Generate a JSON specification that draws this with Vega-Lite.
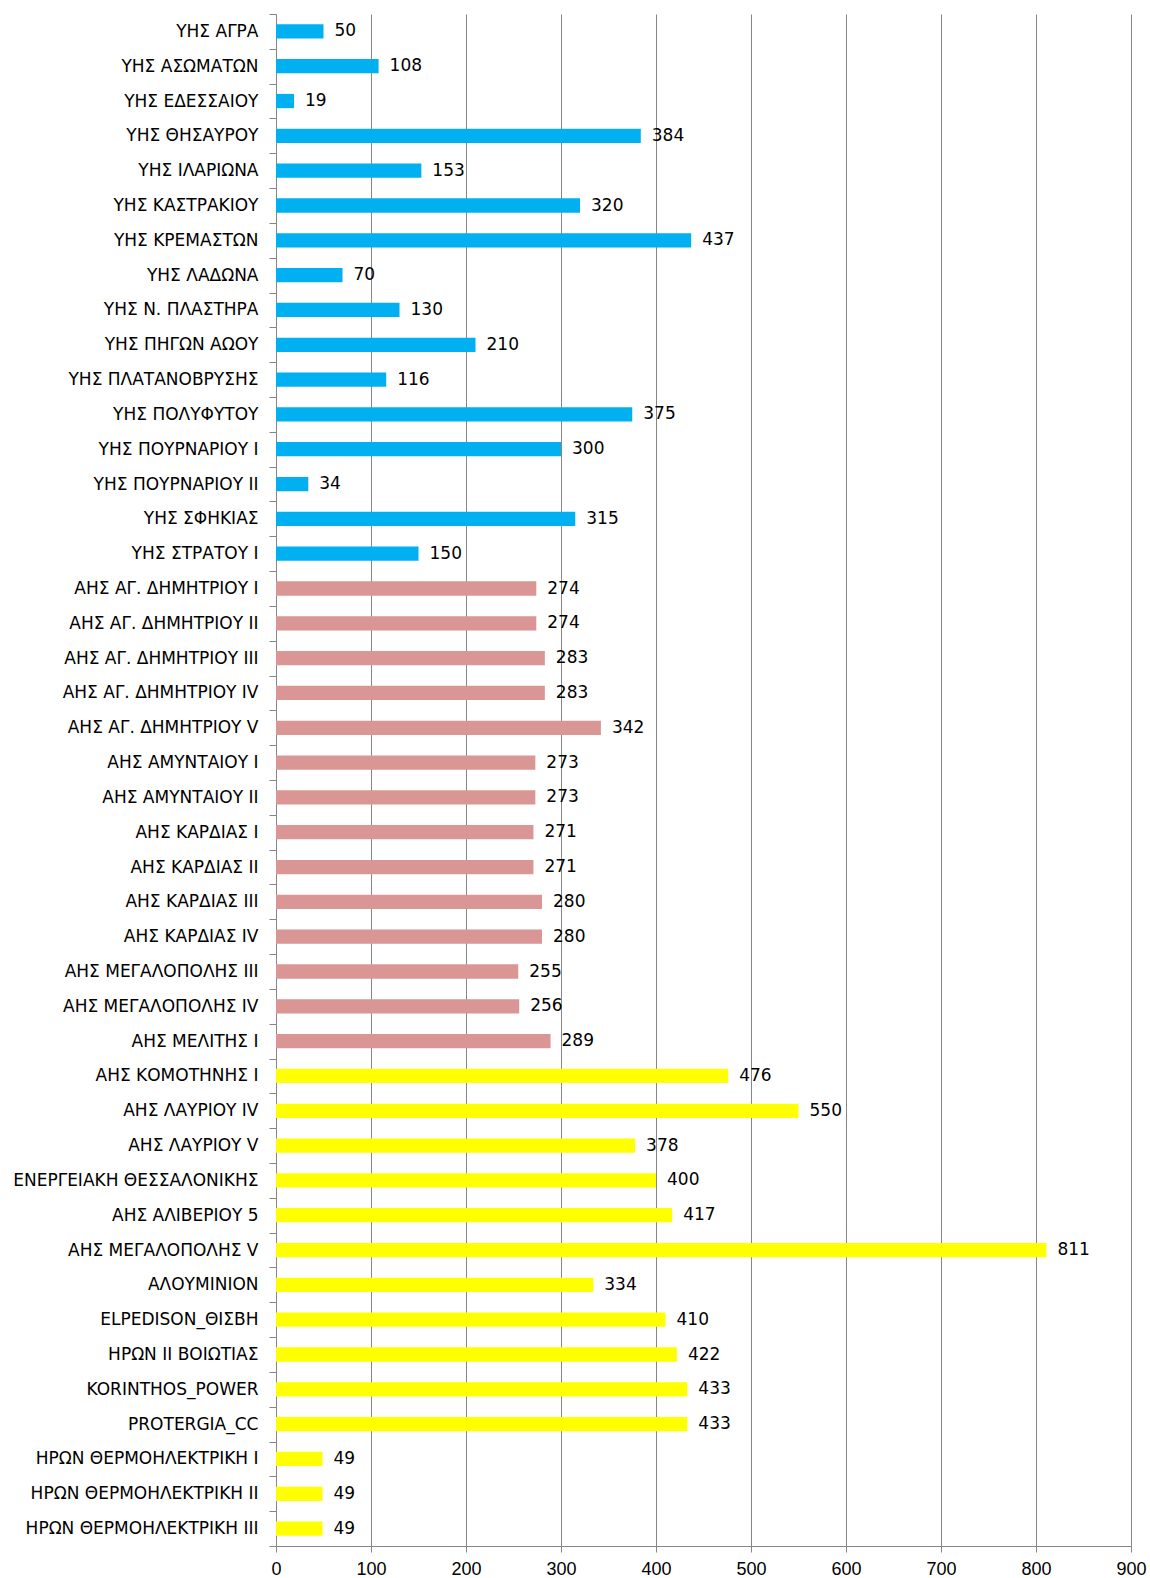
{
  "$schema": "https://vega.github.io/schema/vega-lite/v6.json",
  "width": 855,
  "height": 1532,
  "autosize": {"type": "none"},
  "padding": {"left": 276, "top": 14, "right": 19, "bottom": 32},
  "background": "white",
  "config": {
    "view": {"stroke": null},
    "text": {"font": "DejaVu Sans"}
  },
  "data": {
    "values": [
      {"name": "ΥΗΣ ΑΓΡΑ", "value": 50, "type": "hydro"},
      {"name": "ΥΗΣ ΑΣΩΜΑΤΩΝ", "value": 108, "type": "hydro"},
      {"name": "ΥΗΣ ΕΔΕΣΣΑΙΟΥ", "value": 19, "type": "hydro"},
      {"name": "ΥΗΣ ΘΗΣΑΥΡΟΥ", "value": 384, "type": "hydro"},
      {"name": "ΥΗΣ ΙΛΑΡΙΩΝΑ", "value": 153, "type": "hydro"},
      {"name": "ΥΗΣ ΚΑΣΤΡΑΚΙΟΥ", "value": 320, "type": "hydro"},
      {"name": "ΥΗΣ ΚΡΕΜΑΣΤΩΝ", "value": 437, "type": "hydro"},
      {"name": "ΥΗΣ ΛΑΔΩΝΑ", "value": 70, "type": "hydro"},
      {"name": "ΥΗΣ Ν. ΠΛΑΣΤΗΡΑ", "value": 130, "type": "hydro"},
      {"name": "ΥΗΣ ΠΗΓΩΝ ΑΩΟΥ", "value": 210, "type": "hydro"},
      {"name": "ΥΗΣ ΠΛΑΤΑΝΟΒΡΥΣΗΣ", "value": 116, "type": "hydro"},
      {"name": "ΥΗΣ ΠΟΛΥΦΥΤΟΥ", "value": 375, "type": "hydro"},
      {"name": "ΥΗΣ ΠΟΥΡΝΑΡΙΟΥ I", "value": 300, "type": "hydro"},
      {"name": "ΥΗΣ ΠΟΥΡΝΑΡΙΟΥ II", "value": 34, "type": "hydro"},
      {"name": "ΥΗΣ ΣΦΗΚΙΑΣ", "value": 315, "type": "hydro"},
      {"name": "ΥΗΣ ΣΤΡΑΤΟΥ I", "value": 150, "type": "hydro"},
      {"name": "ΑΗΣ ΑΓ. ΔΗΜΗΤΡΙΟΥ I", "value": 274, "type": "lignite"},
      {"name": "ΑΗΣ ΑΓ. ΔΗΜΗΤΡΙΟΥ II", "value": 274, "type": "lignite"},
      {"name": "ΑΗΣ ΑΓ. ΔΗΜΗΤΡΙΟΥ III", "value": 283, "type": "lignite"},
      {"name": "ΑΗΣ ΑΓ. ΔΗΜΗΤΡΙΟΥ IV", "value": 283, "type": "lignite"},
      {"name": "ΑΗΣ ΑΓ. ΔΗΜΗΤΡΙΟΥ V", "value": 342, "type": "lignite"},
      {"name": "ΑΗΣ ΑΜΥΝΤΑΙΟΥ I", "value": 273, "type": "lignite"},
      {"name": "ΑΗΣ ΑΜΥΝΤΑΙΟΥ II", "value": 273, "type": "lignite"},
      {"name": "ΑΗΣ ΚΑΡΔΙΑΣ I", "value": 271, "type": "lignite"},
      {"name": "ΑΗΣ ΚΑΡΔΙΑΣ II", "value": 271, "type": "lignite"},
      {"name": "ΑΗΣ ΚΑΡΔΙΑΣ III", "value": 280, "type": "lignite"},
      {"name": "ΑΗΣ ΚΑΡΔΙΑΣ IV", "value": 280, "type": "lignite"},
      {"name": "ΑΗΣ ΜΕΓΑΛΟΠΟΛΗΣ III", "value": 255, "type": "lignite"},
      {"name": "ΑΗΣ ΜΕΓΑΛΟΠΟΛΗΣ IV", "value": 256, "type": "lignite"},
      {"name": "ΑΗΣ ΜΕΛΙΤΗΣ I", "value": 289, "type": "lignite"},
      {"name": "ΑΗΣ ΚΟΜΟΤΗΝΗΣ I", "value": 476, "type": "gas"},
      {"name": "ΑΗΣ ΛΑΥΡΙΟΥ IV", "value": 550, "type": "gas"},
      {"name": "ΑΗΣ ΛΑΥΡΙΟΥ V", "value": 378, "type": "gas"},
      {"name": "ΕΝΕΡΓΕΙΑΚΗ ΘΕΣΣΑΛΟΝΙΚΗΣ", "value": 400, "type": "gas"},
      {"name": "ΑΗΣ ΑΛΙΒΕΡΙΟΥ 5", "value": 417, "type": "gas"},
      {"name": "ΑΗΣ ΜΕΓΑΛΟΠΟΛΗΣ V", "value": 811, "type": "gas"},
      {"name": "ΑΛΟΥΜΙΝΙΟΝ", "value": 334, "type": "gas"},
      {"name": "ELPEDISON_ΘΙΣΒΗ", "value": 410, "type": "gas"},
      {"name": "ΗΡΩΝ ΙΙ ΒΟΙΩΤΙΑΣ", "value": 422, "type": "gas"},
      {"name": "KORINTHOS_POWER", "value": 433, "type": "gas"},
      {"name": "PROTERGIA_CC", "value": 433, "type": "gas"},
      {"name": "ΗΡΩΝ ΘΕΡΜΟΗΛΕΚΤΡΙΚΗ I", "value": 49, "type": "gas"},
      {"name": "ΗΡΩΝ ΘΕΡΜΟΗΛΕΚΤΡΙΚΗ II", "value": 49, "type": "gas"},
      {"name": "ΗΡΩΝ ΘΕΡΜΟΗΛΕΚΤΡΙΚΗ III", "value": 49, "type": "gas"}
    ]
  },
  "encoding": {
    "y": {
      "field": "name",
      "type": "nominal",
      "sort": null,
      "scale": {"paddingInner": 0, "paddingOuter": 0},
      "axis": {
        "title": null,
        "tickBand": "extent",
        "domain": true,
        "domainColor": "#868686",
        "tickColor": "#868686",
        "tickSize": 7,
        "labelPadding": 11,
        "labelFont": "DejaVu Sans",
        "labelFontSize": 17,
        "labelColor": "#000000",
        "labelLimit": 300,
        "grid": false
      }
    },
    "x": {
      "field": "value",
      "type": "quantitative",
      "scale": {"domain": [0, 900], "nice": false},
      "axis": {
        "title": null,
        "values": [0, 100, 200, 300, 400, 500, 600, 700, 800, 900],
        "grid": true,
        "gridColor": "#868686",
        "gridWidth": 1,
        "domainColor": "#868686",
        "tickColor": "#868686",
        "tickSize": 6,
        "labelPadding": 8,
        "labelFont": "Liberation Sans",
        "labelFontSize": 18,
        "labelColor": "#000000",
        "labelFlush": false
      }
    }
  },
  "layer": [
    {
      "mark": {"type": "bar", "height": {"band": 0.41}},
      "encoding": {
        "color": {
          "field": "type",
          "type": "nominal",
          "scale": {"domain": ["hydro", "lignite", "gas"], "range": ["#00B0F0", "#D99694", "#FFFF00"]},
          "legend": null
        }
      }
    },
    {
      "mark": {"type": "text", "align": "left", "baseline": "middle", "dx": 11, "fontSize": 17, "font": "DejaVu Sans", "color": "#000000"},
      "encoding": {"text": {"field": "value", "type": "quantitative"}}
    }
  ]
}
